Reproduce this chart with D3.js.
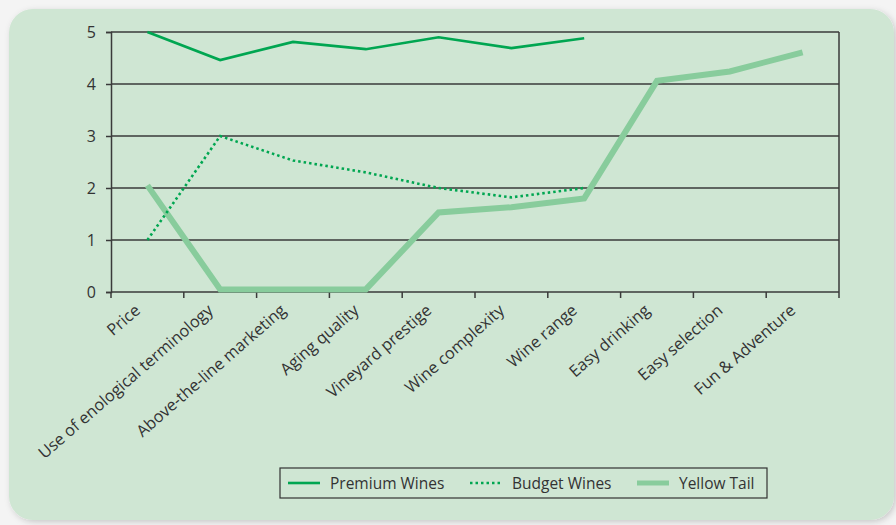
<!DOCTYPE html>
<html>
<head>
<meta charset="utf-8">
<script src="https://cdn.jsdelivr.net/npm/d3@7"></script>
<style>
  body { margin: 0; background: #f4f4f4; }
  svg { display: block; font-family: "Open Sans", "Noto Sans", sans-serif; }
</style>
</head>
<body>
<div id="chart"></div>
<script>
// categories along the x axis
var categories = ["Price", "Use of enological terminology", "Above-the-line marketing",
    "Aging quality", "Vineyard prestige", "Wine complexity", "Wine range",
    "Easy drinking", "Easy selection", "Fun & Adventure"];

// series values (null = not rated)
var premium = [5.0, 4.46, 4.81, 4.67, 4.90, 4.69, 4.88, null, null, null];
var budget = [1.0, 3.0, 2.53, 2.3, 2.0, 1.82, 2.0, null, null, null];
var yellowTail = [2.05, 0.05, 0.05, 0.05, 1.53, 1.63, 1.8, 4.06, 4.24, 4.61];

var yTicks = [0, 1, 2, 3, 4, 5];
var legendLabels = ["Premium Wines", "Budget Wines", "Yellow Tail"];

var W = 896, H = 525;
var margin = {left: 111, right: 57, top: 32, bottom: 233};
var innerW = W - margin.left - margin.right;
var innerH = H - margin.top - margin.bottom;

var series = [
    {name: legendLabels[0], values: premium, color: "#00a651", width: 2.6, dash: null},
    {name: legendLabels[1], values: budget, color: "#00a651", width: 2.6, dash: "2.5,3"},
    {name: legendLabels[2], values: yellowTail, color: "#88cc9c", width: 6, dash: null}
];

var svg = d3.select("#chart").append("svg")
    .attr("width", W)
    .attr("height", H);

// shadow + rounded panel
var defs = svg.append("defs");
var filt = defs.append("filter").attr("id", "shadow")
    .attr("x", "-5%").attr("y", "-5%").attr("width", "110%").attr("height", "110%");
filt.append("feDropShadow").attr("dx", 2).attr("dy", 2).attr("stdDeviation", 3)
    .attr("flood-color", "#000").attr("flood-opacity", 0.18);

svg.append("rect")
    .attr("x", 9).attr("y", 9)
    .attr("width", 885).attr("height", 511)
    .attr("rx", 24).attr("ry", 24)
    .attr("fill", "#cfe6d3")
    .attr("filter", "url(#shadow)");

var g = svg.append("g")
    .attr("transform", "translate(" + margin.left + "," + margin.top + ")");

var x = d3.scaleBand()
    .domain(categories)
    .range([0, innerW]);

var y = d3.scaleLinear()
    .domain([0, 5])
    .range([innerH, 0]);

// horizontal grid lines
g.append("g").selectAll("line")
    .data(yTicks.filter(function(d) { return d > 0; }))
    .enter().append("line")
    .attr("x1", 0).attr("x2", innerW)
    .attr("y1", function(d) { return y(d); })
    .attr("y2", function(d) { return y(d); })
    .attr("stroke", "#3a3a3a")
    .attr("stroke-width", 1.5);

// right border
g.append("line")
    .attr("x1", innerW).attr("x2", innerW)
    .attr("y1", 0).attr("y2", innerH)
    .attr("stroke", "#3a3a3a").attr("stroke-width", 1.5);

// y axis
var yAxis = g.append("g")
    .call(d3.axisLeft(y).tickValues(yTicks).tickSize(5).tickPadding(10).tickFormat(d3.format("d")));
yAxis.select(".domain").attr("stroke", "#3a3a3a").attr("stroke-width", 1.5);
yAxis.selectAll(".tick line").attr("stroke", "#3a3a3a").attr("stroke-width", 1.5);
yAxis.selectAll("text").attr("font-size", 16).attr("fill", "#333")
    .attr("font-family", "\"Open Sans\", sans-serif");

// x axis: ticks at band boundaries
var bounds = categories.map(function(c) { return x(c); }).concat([innerW]);
var xAxisG = g.append("g").attr("transform", "translate(0," + innerH + ")");
xAxisG.append("line")
    .attr("x1", 0).attr("x2", innerW)
    .attr("stroke", "#3a3a3a").attr("stroke-width", 1.5);
xAxisG.selectAll("line.tk")
    .data(bounds)
    .enter().append("line")
    .attr("class", "tk")
    .attr("x1", function(d) { return d; })
    .attr("x2", function(d) { return d; })
    .attr("y1", 0).attr("y2", 6)
    .attr("stroke", "#3a3a3a").attr("stroke-width", 1.5);

xAxisG.selectAll("text")
    .data(categories)
    .enter().append("text")
    .attr("text-anchor", "end")
    .attr("transform", function(d) {
        return "translate(" + (x(d) + x.bandwidth() / 2 - 6) + ",20)rotate(-41)";
    })
    .attr("font-size", 16.3)
    .attr("fill", "#333")
    .text(function(d) { return d; });

// lines
var line = d3.line()
    .defined(function(d) { return d != null; })
    .x(function(d, i) { return x(categories[i]) + x.bandwidth() / 2; })
    .y(function(d) { return y(d); });

// draw Yellow Tail first so premium/budget sit above it
[series[2], series[1], series[0]].forEach(function(s) {
    g.append("path")
        .attr("d", line(s.values))
        .attr("fill", "none")
        .attr("stroke", s.color)
        .attr("stroke-width", s.width)
        .attr("stroke-dasharray", s.dash)
        .attr("stroke-linejoin", "miter");
});

// legend
var legend = svg.append("g").attr("transform", "translate(280,468)");
legend.append("rect")
    .attr("width", 487).attr("height", 30)
    .attr("fill", "none")
    .attr("stroke", "#333").attr("stroke-width", 1.2);

var legendX = [8, 190, 357];
series.forEach(function(s, i) {
    var item = legend.append("g").attr("transform", "translate(" + legendX[i] + ",15)");
    item.append("line")
        .attr("x1", 0).attr("x2", 32)
        .attr("stroke", s.color)
        .attr("stroke-width", i === 2 ? 5 : 2.6)
        .attr("stroke-dasharray", s.dash);
    item.append("text")
        .attr("x", 42).attr("y", 5.5)
        .attr("font-size", 15.5)
        .attr("fill", "#333")
        .text(s.name);
});
</script>
</body>
</html>
